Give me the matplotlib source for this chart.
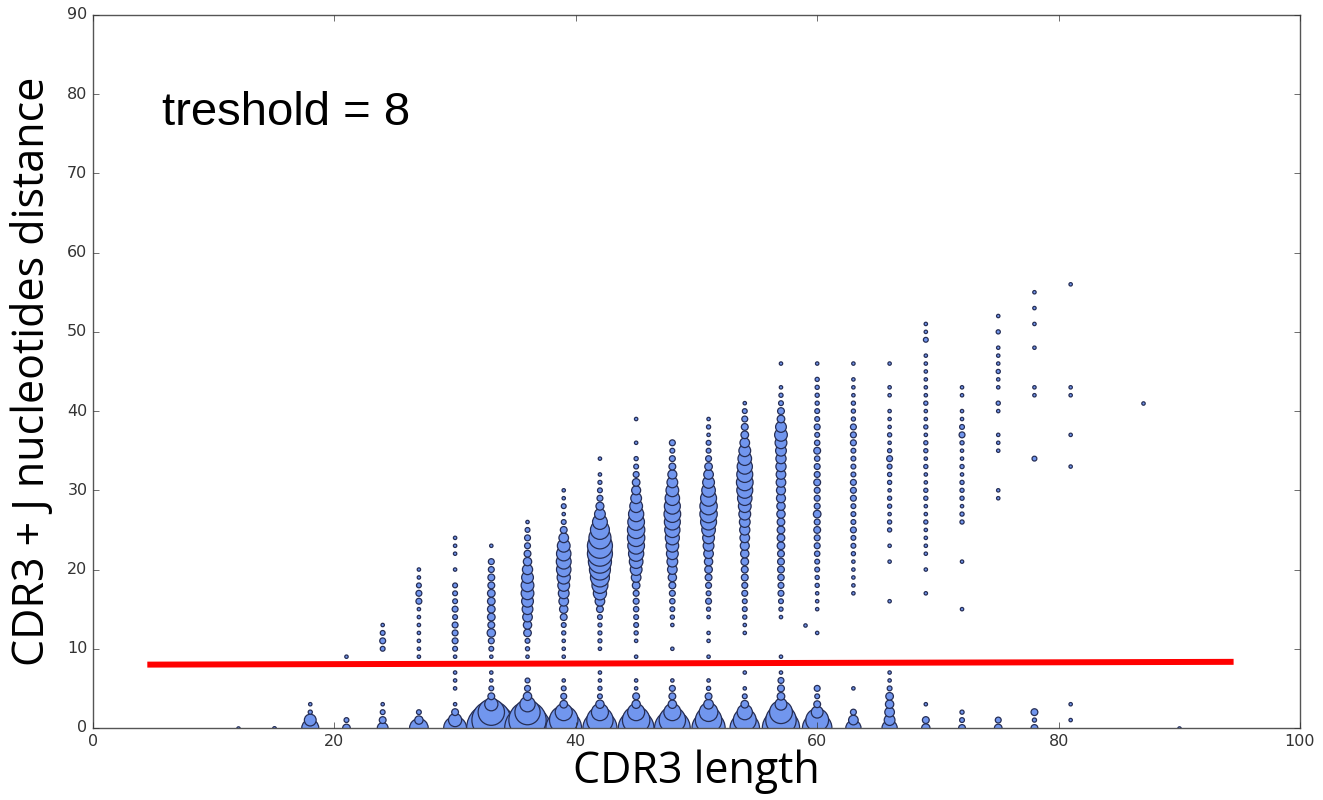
import matplotlib
matplotlib.use('Agg')
import matplotlib.pyplot as plt
plt.style.use('classic')

# number of clonotypes (bubble weight) at each CDR3+J distance, one dict per CDR3 length
len_12 = {0: 1}
len_15 = {0: 1.2}
len_18 = {0: 25, 1: 12, 2: 1.5, 3: 1}
len_21 = {0: 5, 1: 2, 9: 1}
len_24 = {0: 10, 1: 4, 2: 2, 3: 1, 10: 2, 11: 3, 12: 2, 13: 1}
len_27 = {0: 30, 1: 6, 2: 2, 9: 1, 10: 1, 11: 1, 12: 1, 13: 1, 14: 1, 15: 1,
          16: 3, 17: 3, 18: 2, 19: 1, 20: 1}
len_30 = {0: 45, 1: 15, 2: 4, 3: 1, 5: 1, 6: 1, 7: 1, 9: 1, 10: 2, 11: 3, 12: 3,
          13: 3, 14: 2, 15: 3, 16: 2, 17: 2, 18: 2, 20: 1, 22: 1, 23: 1, 24: 1}
len_33 = {0: 210, 1: 130, 2: 60, 3: 15, 4: 4, 5: 2, 6: 1, 7: 1, 9: 1, 10: 2,
          11: 3, 12: 6, 13: 4, 14: 5, 15: 5, 16: 5, 17: 5, 18: 4, 19: 4, 20: 3,
          21: 3, 23: 1}
len_36 = {0: 180, 1: 120, 2: 55, 3: 20, 4: 6, 5: 3, 6: 2, 9: 1, 10: 1.5, 11: 2,
          12: 5, 13: 6, 14: 8, 15: 10, 16: 12, 17: 14, 18: 14, 19: 12, 20: 9,
          21: 6, 22: 4, 23: 3, 24: 3, 25: 2, 26: 1}
len_39 = {0: 110, 1: 70, 2: 25, 3: 5, 4: 3, 5: 2, 6: 1, 9: 1, 10: 1, 11: 1,
          12: 1.5, 13: 2, 14: 4, 15: 6, 16: 8, 17: 10, 18: 12, 19: 15, 20: 18,
          21: 19, 22: 18, 23: 14, 24: 8, 25: 4, 26: 2, 27: 1, 28: 2, 29: 1, 30: 1}
len_42 = {0: 100, 1: 60, 2: 25, 3: 6, 4: 2, 5: 1.5, 6: 1, 7: 1, 10: 1, 11: 1.4,
          12: 1.4, 13: 1.4, 14: 2, 15: 4, 16: 8, 17: 15, 18: 22, 19: 31, 20: 38,
          21: 46, 22: 54, 23: 54, 24: 42, 25: 31, 26: 19, 27: 10, 28: 5.5,
          29: 3, 30: 2, 31: 1.4, 32: 1, 34: 1}
len_45 = {0: 110, 1: 65, 2: 25, 3: 6, 4: 4, 5: 1, 6: 1, 9: 1, 11: 1, 12: 1.5,
          13: 2, 14: 2, 15: 2.5, 16: 3, 17: 3, 18: 5, 19: 8, 20: 12, 21: 16,
          22: 20, 23: 24, 24: 26, 25: 26, 26: 24, 27: 20, 28: 14, 29: 10, 30: 7,
          31: 5, 32: 3, 33: 2, 34: 1.5, 36: 1, 39: 1}
len_48 = {0: 110, 1: 60, 2: 25, 3: 6, 4: 4, 5: 3, 6: 1, 10: 1, 13: 1, 14: 1.5,
          15: 2, 16: 2.5, 17: 3, 18: 4, 19: 6, 20: 8, 21: 10, 22: 12, 23: 14,
          24: 17, 25: 20, 26: 22, 27: 24, 28: 22, 29: 18, 30: 14, 31: 10, 32: 7,
          33: 4, 34: 3, 35: 2, 36: 3}
len_51 = {0: 95, 1: 60, 2: 30, 3: 8, 4: 4, 5: 1.5, 6: 1, 9: 1, 11: 1, 12: 1,
          14: 1, 15: 1.5, 16: 3, 17: 2, 18: 3, 19: 4, 20: 5, 21: 6, 22: 8,
          23: 10, 24: 12, 25: 16, 26: 22, 27: 26, 28: 26, 29: 22, 30: 16, 31: 12,
          32: 8, 33: 5, 34: 3, 35: 2, 36: 2, 37: 1, 38: 1.5, 39: 1}
len_54 = {0: 75, 1: 45, 2: 20, 3: 5, 4: 2, 5: 1, 7: 1, 12: 1, 13: 1, 14: 1.5,
          15: 2, 16: 2, 17: 3, 18: 3, 19: 4, 20: 4, 21: 5, 22: 6, 23: 7, 24: 8,
          25: 9, 26: 10, 27: 12, 28: 14, 29: 18, 30: 22, 31: 24, 32: 22, 33: 20,
          34: 16, 35: 12, 36: 8, 37: 5, 38: 4, 39: 3, 40: 2, 41: 1}
len_57 = {0: 120, 1: 80, 2: 45, 3: 12, 4: 5, 5: 4, 6: 3, 7: 1, 9: 1, 14: 1,
          15: 1.5, 16: 2, 17: 3, 18: 3, 19: 3.5, 20: 4, 21: 4, 22: 4, 23: 5,
          24: 5, 25: 5, 26: 5, 27: 6, 28: 6, 29: 7, 30: 7, 31: 8, 32: 8, 33: 9,
          34: 9, 35: 10, 36: 12, 37: 14, 38: 10, 39: 5, 40: 4, 41: 2, 42: 1.5,
          43: 1, 46: 1}
len_59 = {13: 1}
len_60 = {0: 75, 1: 45, 2: 12, 3: 4, 4: 2, 5: 3, 12: 1, 15: 1, 16: 1, 17: 1,
          18: 1.5, 19: 1.5, 20: 2, 21: 2, 22: 2.5, 23: 3, 24: 3, 25: 4, 26: 3,
          27: 5, 28: 3, 29: 3, 30: 3, 31: 4, 32: 3, 33: 3, 34: 2.5, 35: 4,
          36: 2.5, 37: 2, 38: 3, 39: 2, 40: 2, 41: 1.5, 42: 1.5, 43: 1.5,
          44: 1.5, 46: 1}
len_63 = {0: 20, 1: 8, 2: 3, 5: 1, 17: 1, 18: 1, 19: 1, 20: 1, 21: 1, 22: 1.5,
          23: 2, 24: 2, 25: 3, 26: 2, 27: 2, 28: 2, 29: 3, 30: 3, 31: 3, 32: 2,
          33: 2, 34: 2, 35: 2, 36: 3, 37: 3, 38: 3, 39: 1.5, 40: 1.5, 41: 1.5,
          42: 1, 43: 1, 44: 1, 46: 1}
len_66 = {0: 20, 1: 10, 2: 8, 3: 6, 4: 5, 5: 2, 6: 1, 7: 1, 16: 1, 21: 1,
          23: 1, 25: 1.5, 26: 1.5, 27: 1, 28: 1.5, 29: 1.5, 30: 1, 31: 1.5,
          32: 1.5, 33: 2, 34: 3, 35: 1.5, 36: 1, 37: 1.5, 38: 1, 39: 1, 40: 1,
          42: 1, 43: 1, 46: 1}
len_69 = {0: 6, 1: 4, 3: 1, 17: 1, 20: 1, 22: 1, 23: 1, 24: 1, 25: 1, 26: 1.5,
          27: 1, 28: 1, 29: 1.5, 30: 1.5, 31: 1, 32: 1, 33: 1.5, 34: 1,
          35: 1.5, 36: 1.5, 37: 1, 38: 1.5, 39: 1, 40: 1, 41: 1.5, 42: 1,
          43: 1, 44: 1, 45: 1, 46: 1, 47: 1, 49: 2, 50: 1, 51: 1}
len_72 = {0: 4, 1: 2, 2: 1.5, 15: 1, 21: 1, 26: 1.5, 27: 1.5, 28: 1, 29: 1.5,
          30: 1.5, 31: 1.5, 32: 1, 33: 1.5, 34: 1, 35: 1, 36: 1.5, 37: 3,
          38: 2, 39: 1, 40: 1, 42: 1, 43: 1}
len_75 = {0: 5, 1: 3, 29: 1, 30: 1, 35: 1, 36: 1, 37: 1, 40: 1, 41: 1.5,
          43: 1, 44: 1, 45: 1.5, 46: 1, 47: 1, 48: 1, 50: 1.5, 52: 1}
len_78 = {0: 4, 1: 1.5, 2: 4, 34: 2, 42: 1, 43: 1, 48: 1, 51: 1, 53: 1, 55: 1}
len_81 = {1: 1, 3: 1, 33: 1, 37: 1, 42: 1, 43: 1, 56: 1}
len_87 = {41: 1}
len_90 = {0: 1}

columns = [(12, len_12), (15, len_15), (18, len_18), (21, len_21), (24, len_24),
           (27, len_27), (30, len_30), (33, len_33), (36, len_36), (39, len_39),
           (42, len_42), (45, len_45), (48, len_48), (51, len_51), (54, len_54),
           (57, len_57), (59, len_59), (60, len_60), (63, len_63), (66, len_66),
           (69, len_69), (72, len_72), (75, len_75), (78, len_78), (81, len_81),
           (87, len_87), (90, len_90)]

threshold_x = [4.5, 94.5]
threshold_y = [8.0, 8.35]

fig = plt.figure(figsize=(13.23, 8), dpi=100, facecolor='white')
ax = fig.add_axes([0.0703, 0.09, 0.9123, 0.8913])
ax.set_facecolor('white')

for length, counts in columns:
    ys = sorted(counts)
    ax.scatter([length] * len(ys), ys, s=[counts[y] * 6 for y in ys],
               c='#7196ee', edgecolors='#262e55', linewidths=0.9, zorder=2)

ax.plot(threshold_x, threshold_y, color='#ff0000', lw=4.3,
        solid_capstyle='butt', zorder=3)
ax.text(5.7, 77.6, 'treshold = 8', fontsize=34, family='Liberation Sans',
        va='center', ha='left')

ax.set_xlim(0, 100)
ax.set_ylim(0, 90)
ax.set_xticks(range(0, 101, 20))
ax.set_yticks(range(0, 91, 10))
ax.tick_params(labelsize=11.5, colors='#333333')
for sp in ax.spines.values():
    sp.set_color('#555555')
ax.set_xlabel('CDR3 length', fontsize=31, family='Open Sans', labelpad=1)
ax.set_ylabel('CDR3 + J nucleotides distance', fontsize=31,
              family='Open Sans', labelpad=9)

fig.savefig('out.png', dpi=100, facecolor='white')
